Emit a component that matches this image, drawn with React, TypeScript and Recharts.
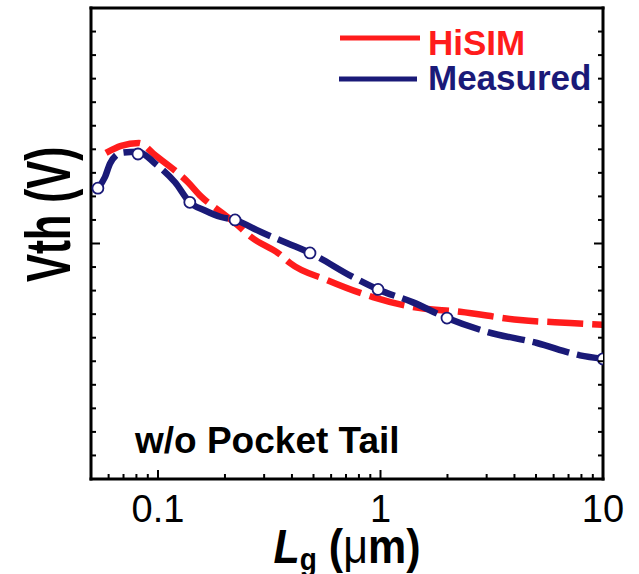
import React from "react";
import {
  ComposedChart,
  Line,
  Scatter,
  XAxis,
  YAxis,
  Legend,
} from "recharts";

// Lg in um, Vth in V
const hisimLg = [0.0584, 0.0682, 0.0821, 0.097, 0.1364, 0.156, 0.1919, 0.222, 0.262, 0.3575, 0.392, 0.575, 0.925, 1.4, 2.28, 4.24, 7.11, 10];
const hisimVth = [0.277, 0.283, 0.2853, 0.275, 0.252, 0.24, 0.2267, 0.2174, 0.2055, 0.19, 0.1834, 0.169, 0.1545, 0.146, 0.142, 0.135, 0.1325, 0.131];

const measuredLg = [0.0537, 0.0578, 0.0609, 0.0682, 0.0813, 0.097, 0.1193, 0.139, 0.1626, 0.1919, 0.222, 0.2904, 0.384, 0.482, 0.752, 0.975, 1.4, 1.99, 3.01, 5.05, 7.88, 10];
const measuredVth = [0.247, 0.2565, 0.268, 0.277, 0.278, 0.268, 0.252, 0.235, 0.228, 0.2225, 0.22, 0.2097, 0.2, 0.192, 0.1715, 0.161, 0.15, 0.1367, 0.125, 0.1155, 0.105, 0.102];

// measured points drawn with open circles
const markerLg = [0.0537, 0.0813, 0.139, 0.222, 0.482, 0.975, 1.99, 10];
const markerVth = [0.247, 0.276, 0.235, 0.22, 0.192, 0.161, 0.1367, 0.102];

const xTicks = [0.06, 0.07, 0.08, 0.09, 0.1, 0.2, 0.3, 0.4, 0.5, 0.6, 0.7, 0.8, 0.9, 1, 2, 3, 4, 5, 6, 7, 8, 9, 10];
const xMajor = [0.1, 1, 10];
const yTicks = [0, 0.02, 0.04, 0.06, 0.08, 0.1, 0.12, 0.14, 0.16, 0.18, 0.2, 0.22, 0.24, 0.26, 0.28, 0.3, 0.32, 0.34, 0.36, 0.38, 0.4];
const yMajor = [0, 0.2, 0.4];

const hisimData = hisimLg.map((lg, i) => ({ lg, vth: hisimVth[i] }));
const measuredData = measuredLg.map((lg, i) => ({ lg, vth: measuredVth[i] }));
const markerData = markerLg.map((lg, i) => ({ lg, vth: markerVth[i] }));

const RED = "#ff1c1c";
const NAVY = "#1a1a78";
const FONT = "Arial, 'Liberation Sans', Helvetica, sans-serif";

const frame = { stroke: "#000", strokeWidth: 3, strokeLinecap: "square" as const };

const BottomTick = ({ x, y, payload }: any) => {
  const major = xMajor.includes(payload.value);
  return (
    <g>
      <line x1={x} x2={x} y1={y} y2={y - (major ? 9 : 5)} stroke="#000" strokeWidth={2} />
      {major && (
        <text x={x} y={y + 43} textAnchor="middle" fontSize={38} fontFamily={FONT} fill="#000">
          {payload.value}
        </text>
      )}
    </g>
  );
};

const TopTick = ({ x, y, payload }: any) => {
  const major = xMajor.includes(payload.value);
  return <line x1={x} x2={x} y1={y} y2={y + (major ? 9 : 5)} stroke="#000" strokeWidth={2} />;
};

const LeftTick = ({ x, y, payload }: any) => {
  const major = yMajor.includes(payload.value);
  return <line x1={x} x2={x + (major ? 9 : 5)} y1={y} y2={y} stroke="#000" strokeWidth={2} />;
};

const RightTick = ({ x, y, payload }: any) => {
  const major = yMajor.includes(payload.value);
  return <line x1={x} x2={x - (major ? 9 : 5)} y1={y} y2={y} stroke="#000" strokeWidth={2} />;
};

const YTitle = () => (
  <g transform="translate(47.5,214.5) rotate(-90) scale(1,1.5)">
    <text x={0} y={15} textAnchor="middle" fontSize={42} fontWeight="bold" fontFamily={FONT} fill="#000">
      Vth (V)
    </text>
  </g>
);

const XTitle = () => (
  <g transform="translate(347,545.5) scale(1,1.12)">
    <text x={0} y={15.7} textAnchor="middle" fontSize={43} fontWeight="bold" fontFamily={FONT} fill="#000">
      <tspan fontStyle="italic">L</tspan>
      <tspan fontSize={28} dy={6}>g</tspan>
      <tspan dy={-6}> (</tspan>
      <tspan fontWeight="normal">μ</tspan>
      <tspan>m)</tspan>
    </text>
  </g>
);

const Note = () => (
  <text x={135} y={453} fontSize={37} fontWeight="bold" fontFamily={FONT} fill="#000">
    w/o Pocket Tail
  </text>
);

const LegendBox = () => (
  <svg width={280} height={95}>
    <line x1={10} x2={90} y1={23} y2={23} stroke={RED} strokeWidth={5} />
    <text x={98} y={40} fontSize={35} fontWeight="bold" fontFamily={FONT} fill={RED}>
      HiSIM
    </text>
    <line x1={9} x2={87} y1={64} y2={64} stroke={NAVY} strokeWidth={5} />
    <text x={98} y={75} fontSize={35} fontWeight="bold" fontFamily={FONT} fill={NAVY}>
      Measured
    </text>
  </svg>
);

export default function App() {
  return (
    <div style={{ position: "absolute", left: 0, top: 0, width: 639, height: 574, background: "#fff" }}>
      <ComposedChart width={639} height={574} margin={{ top: 7, right: 26, bottom: 35, left: 51 }}>
        <XAxis
          xAxisId="b"
          dataKey="lg"
          type="number"
          scale="log"
          domain={[0.05, 10]}
          allowDataOverflow
          ticks={xTicks}
          interval={0}
          tickSize={0}
          tickMargin={0}
          tickLine={false}
          tick={<BottomTick />}
          axisLine={frame}
          height={60}
          label={<XTitle />}
        />
        <XAxis
          xAxisId="t"
          orientation="top"
          type="number"
          scale="log"
          domain={[0.05, 10]}
          allowDataOverflow
          ticks={xTicks}
          interval={0}
          tickSize={0}
          tickMargin={0}
          tickLine={false}
          tick={<TopTick />}
          axisLine={frame}
          height={1}
        />
        <YAxis
          yAxisId="l"
          dataKey="vth"
          type="number"
          domain={[0, 0.4]}
          allowDataOverflow
          ticks={yTicks}
          interval={0}
          tickSize={0}
          tickMargin={0}
          tickLine={false}
          tick={<LeftTick />}
          axisLine={frame}
          width={40}
          label={<YTitle />}
        />
        <YAxis
          yAxisId="r"
          orientation="right"
          type="number"
          domain={[0, 0.4]}
          allowDataOverflow
          ticks={yTicks}
          interval={0}
          tickSize={0}
          tickMargin={0}
          tickLine={false}
          tick={<RightTick />}
          axisLine={frame}
          width={10}
          label={<Note />}
        />
        <Legend
          layout="vertical"
          align="center"
          verticalAlign="middle"
          content={<LegendBox />}
          wrapperStyle={{ position: "absolute", left: 330, top: 15, width: 280, height: 95 }}
        />
        <Line
          xAxisId="b"
          yAxisId="l"
          data={hisimData}
          dataKey="vth"
          name="HiSIM"
          type="monotone"
          stroke={RED}
          strokeWidth={6.5}
          strokeDasharray="36 9"
          dot={false}
          activeDot={false}
          isAnimationActive={false}
        />
        <Line
          xAxisId="b"
          yAxisId="l"
          data={measuredData}
          dataKey="vth"
          name="Measured"
          type="monotone"
          stroke={NAVY}
          strokeWidth={6.5}
          strokeDasharray="38 8"
          dot={false}
          activeDot={false}
          isAnimationActive={false}
        />
        <Scatter
          xAxisId="b"
          yAxisId="l"
          data={markerData}
          dataKey="vth"
          name="points"
          shape={(p: any) => (
            <circle cx={p.cx} cy={p.cy} r={5.5} fill="#fff" stroke={NAVY} strokeWidth={1.8} />
          )}
          isAnimationActive={false}
        />
      </ComposedChart>
    </div>
  );
}
